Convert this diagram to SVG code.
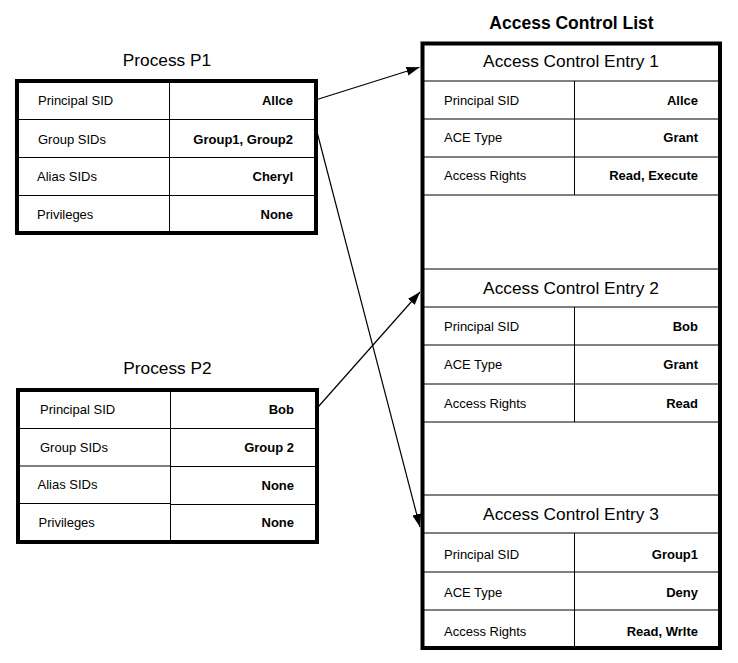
<svg xmlns="http://www.w3.org/2000/svg" width="738" height="663" viewBox="0 0 738 663">
<style>
text{font-family:"Liberation Sans",Arial,sans-serif;fill:#000}
.t{font-size:17.3px;text-anchor:middle}
.ttl{font-size:17.5px;font-weight:bold;text-anchor:middle}
.l{font-size:13px}
.v{font-size:13px;font-weight:bold;text-anchor:end}
.box{fill:#fff;stroke:#000;stroke-width:4}
.ln{stroke:#000;stroke-width:1;fill:none}
.cn{stroke:#000;stroke-width:1.2;fill:none}
</style>
<defs>
<marker id="ah" markerUnits="userSpaceOnUse" markerWidth="14" markerHeight="10" refX="13" refY="5" orient="auto">
<path d="M0,0.5 L13,5 L0,9.5 Z" fill="#000"/>
</marker>
</defs>
<rect width="738" height="663" fill="#fff"/>

<g id="p1">
<text class="t" x="167" y="66">Process P1</text>
<rect class="box" x="17" y="81" width="299" height="152"/>
<path class="ln" d="M169.5,81V233M17,119.5H316M17,157.5H316M17,195.5H316"/>
<text class="l" x="38" y="105">Principal SID</text>
<text class="v" x="293" y="105">Allce</text>
<text class="l" x="38" y="143.5">Group SIDs</text>
<text class="v" x="293" y="143.5">Group1, Group2</text>
<text class="l" x="37" y="181">Alias SIDs</text>
<text class="v" x="293" y="181">Cheryl</text>
<text class="l" x="37" y="218.5">Privileges</text>
<text class="v" x="293" y="218.5">None</text>
</g>

<g id="p2">
<text class="t" x="167.5" y="374">Process P2</text>
<rect class="box" x="18" y="390" width="299" height="152"/>
<path class="ln" d="M170.5,390V542M18,428.5H317M18,466H170.5M170.5,466.5H317M18,503.5H170.5M170.5,504.5H317"/>
<text class="l" x="40" y="413.5">Principal SID</text>
<text class="v" x="294" y="413.5">Bob</text>
<text class="l" x="40" y="452">Group SIDs</text>
<text class="v" x="294" y="452">Group 2</text>
<text class="l" x="37.5" y="488.5">Alias SIDs</text>
<text class="v" x="294" y="489.5">None</text>
<text class="l" x="38.5" y="526.5">Privileges</text>
<text class="v" x="294" y="527">None</text>
</g>

<g id="acl">
<text class="ttl" x="571.5" y="28.5">Access Control List</text>
<rect class="box" x="422.5" y="43.5" width="297.5" height="604.5"/>
</g>

<g id="ace1">
<path class="ln" d="M422.5,81H720M422.5,119H720M422.5,157H720M422.5,195H720M574.5,81V195"/>
<text class="t" x="571" y="66.7">Access Control Entry 1</text>
<text class="l" x="444" y="104.5">Principal SID</text>
<text class="v" x="698" y="104.5">Allce</text>
<text class="l" x="444" y="142.3">ACE Type</text>
<text class="v" x="698" y="142.3">Grant</text>
<text class="l" x="444" y="180.3">Access Rights</text>
<text class="v" x="698" y="180.3">Read, Execute</text>
</g>

<g id="ace2">
<path class="ln" d="M422.5,269H720M422.5,307H720M422.5,345H720M422.5,384H720M422.5,422H720M574.5,307V422"/>
<text class="t" x="571" y="293.5">Access Control Entry 2</text>
<text class="l" x="444" y="330.8">Principal SID</text>
<text class="v" x="698" y="330.8">Bob</text>
<text class="l" x="444" y="368.5">ACE Type</text>
<text class="v" x="698" y="368.5">Grant</text>
<text class="l" x="444" y="407.5">Access Rights</text>
<text class="v" x="698" y="407.5">Read</text>
</g>

<g id="ace3">
<path class="ln" d="M422.5,495H720M422.5,533H720M422.5,572H720M422.5,610H720M574.5,533V648"/>
<text class="t" x="571" y="520">Access Control Entry 3</text>
<text class="l" x="444" y="558.5">Principal SID</text>
<text class="v" x="698" y="558.5">Group1</text>
<text class="l" x="444" y="596.8">ACE Type</text>
<text class="v" x="698" y="596.8">Deny</text>
<text class="l" x="444" y="635.8">Access Rights</text>
<text class="v" x="698" y="635.8">Read, Wrlte</text>
</g>

<g id="connectors">
<line class="cn" x1="317" y1="99.5" x2="419.5" y2="67.3" marker-end="url(#ah)"/>
<line class="cn" x1="316" y1="128" x2="420" y2="527" marker-end="url(#ah)"/>
<line class="cn" x1="318.5" y1="406.5" x2="420" y2="292" marker-end="url(#ah)"/>
</g>
</svg>
